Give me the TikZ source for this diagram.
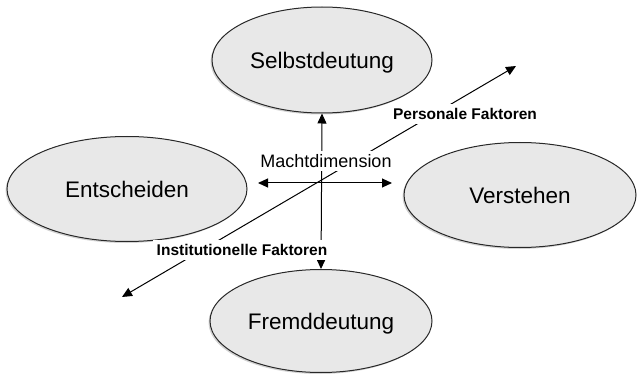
\documentclass[tikz,border=0pt]{standalone}
\usepackage{fontspec}
\setmainfont{Liberation Sans}
\usetikzlibrary{arrows.meta,shapes.geometric,shadows}
\definecolor{EllFillClr}{RGB}{232,232,232}
\definecolor{EllLineClr}{RGB}{40,40,40}

\tikzset{
  dimell/.style={ellipse,draw=EllLineClr,line width=1pt,fill=EllFillClr,
    inner sep=0pt,text depth=0pt,drop shadow={shadow xshift=-1.5pt,shadow yshift=-1.5pt,opacity=0.35},
    font=\fontsize{22.5}{26}\selectfont},
  dimarrow/.style={line width=1pt,{Triangle[length=10pt,width=9pt]}-{Triangle[length=10pt,width=9pt]}},
  faktorlbl/.style={fill=white,inner sep=4pt,font=\bfseries\fontsize{15.5}{18}\selectfont}
}

\begin{document}
\begin{tikzpicture}[x=1pt,y=-1pt]
\useasboundingbox (0,0) rectangle (637,374);

\node[dimell,minimum width=220pt,minimum height=106pt] (Selbst) at (322,60) {Selbstdeutung};
\node[dimell,minimum width=240pt,minimum height=105pt] (Entsch) at (127,189) {Entscheiden};
\node[dimell,minimum width=232pt,minimum height=105pt] (Verst) at (520,195) {Verstehen};
\node[dimell,minimum width=222pt,minimum height=103pt] (Fremd) at (321,321) {Fremddeutung};

\coordinate (MachtL) at (258,183);
\coordinate (MachtR) at (392,183);
\coordinate (InstEnd) at (122,297);
\coordinate (PersEnd) at (516,66);

\draw[dimarrow] (InstEnd) -- (PersEnd);
\draw[dimarrow] (Fremd.north) -- (Selbst.south);
\draw[dimarrow] (MachtL) -- (MachtR);

\node[fill=white,inner sep=3pt,font=\fontsize{18}{21}\selectfont] (Macht) at (326,161) {Machtdimension};
\node[faktorlbl] (Pers) at (465,114) {Personale Faktoren};
\node[faktorlbl] (Inst) at (242,250) {Institutionelle Faktoren};

\end{tikzpicture}
\end{document}
